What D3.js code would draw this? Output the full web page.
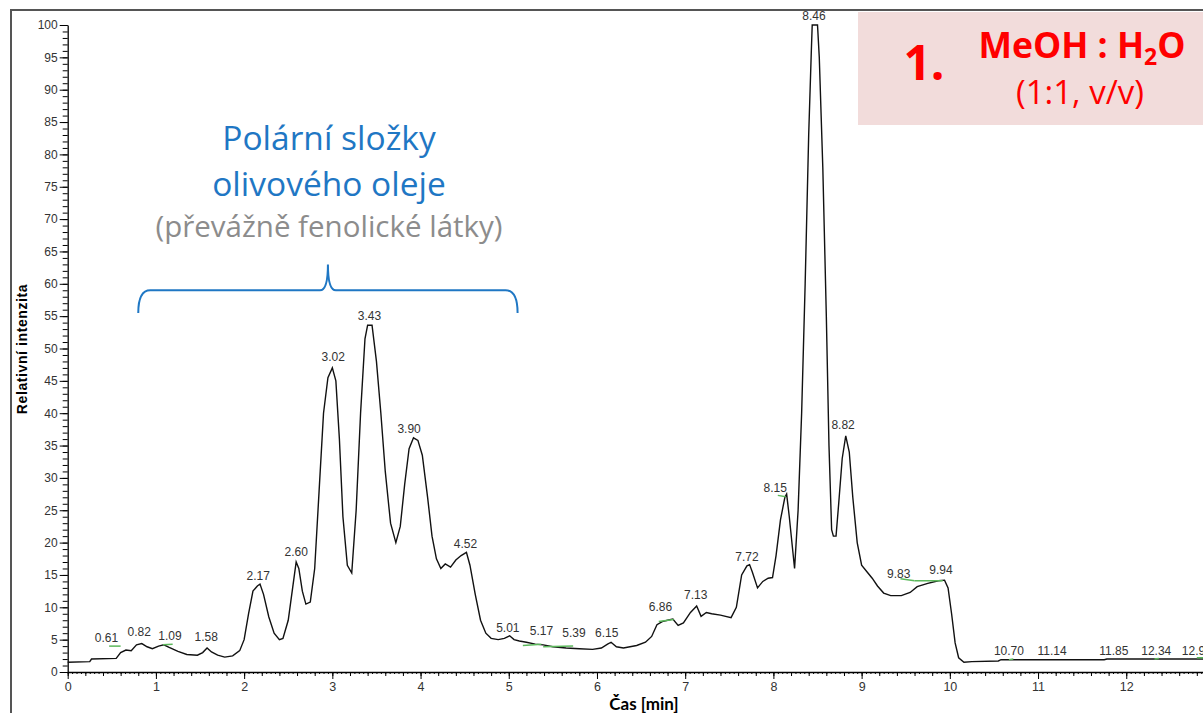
<!DOCTYPE html>
<html>
<head>
<meta charset="utf-8">
<script src="https://cdn.jsdelivr.net/npm/d3@7"></script>
<style>
body { margin: 0; background: #fff; }
</style>
</head>
<body>
<script>
// chromatogram trace (retention time [min], relative intensity)
var rtTime = [0.00,0.25,0.27,0.55,0.60,0.66,0.72,0.78,0.84,0.90,0.96,1.03,1.09,1.15,1.25,1.35,1.47,1.53,1.58,1.63,
  1.70,1.78,1.87,1.95,2.00,2.05,2.10,2.15,2.18,2.22,2.28,2.34,2.40,2.44,2.50,2.55,2.59,2.62,2.66,2.70,
  2.75,2.80,2.85,2.90,2.95,3.00,3.04,3.08,3.12,3.17,3.22,3.27,3.32,3.37,3.40,3.45,3.50,3.55,3.60,3.66,
  3.72,3.77,3.82,3.87,3.92,3.97,4.02,4.08,4.13,4.18,4.23,4.28,4.34,4.40,4.46,4.52,4.56,4.62,4.68,4.74,
  4.80,4.88,4.95,5.01,5.06,5.12,5.20,5.30,5.39,5.50,5.65,5.80,5.95,6.05,6.12,6.16,6.22,6.30,6.45,6.55,
  6.62,6.68,6.74,6.80,6.86,6.92,6.98,7.06,7.13,7.18,7.24,7.30,7.40,7.52,7.58,7.64,7.70,7.73,7.76,7.82,
  7.88,7.94,7.99,8.03,8.08,8.13,8.15,8.18,8.24,8.28,8.32,8.36,8.40,8.43,8.44,8.50,8.52,8.56,8.60,8.63,
  8.66,8.68,8.71,8.74,8.78,8.82,8.86,8.90,8.95,9.00,9.06,9.12,9.18,9.25,9.33,9.45,9.55,9.63,9.75,9.87,
  9.94,9.98,10.02,10.06,10.10,10.16,10.25,10.55,10.58,11.75,11.78,12.90];
var intensity = [1.5,1.6,2.0,2.1,3.0,3.4,3.3,4.2,4.4,3.9,3.6,4.0,4.2,3.8,3.2,2.7,2.6,3.0,3.7,3.1,
  2.6,2.3,2.5,3.3,5.0,9.0,12.5,13.3,13.6,12.0,8.5,6.0,5.0,5.2,8.0,13.0,17.0,16.0,12.5,10.5,
  10.8,16.0,28.0,40.0,45.5,47.0,45.0,36.0,24.0,16.5,15.3,25.0,40.0,51.5,53.6,53.6,48.0,40.0,31.0,23.0,
  20.0,22.5,29.0,34.5,36.2,35.8,33.5,27.0,21.0,17.5,16.0,16.7,16.2,17.3,18.0,18.5,16.5,12.0,8.0,6.0,
  5.2,5.0,5.2,5.6,5.0,4.8,4.6,4.3,4.2,3.9,3.7,3.6,3.5,3.7,4.3,4.6,3.9,3.7,4.1,4.6,
  5.5,7.3,7.8,8.0,8.2,7.2,7.6,9.2,10.2,8.6,9.2,9.0,8.8,8.4,10.0,15.0,16.4,16.6,15.5,13.0,
  14.0,14.5,14.6,18.0,23.5,27.0,27.5,24.0,16.0,25.0,40.0,60.0,83.0,96.0,100,100,95.0,78.0,55.0,35.0,
  22.0,21.0,21.0,26.0,33.0,36.5,34.0,27.0,20.0,16.5,15.5,14.5,13.3,12.2,11.8,11.8,12.3,13.2,13.7,14.1,
  14.2,13.0,9.0,4.5,2.2,1.5,1.6,1.7,1.9,1.9,2.0,2.0];

// peak labels: text, position (time) and level (intensity) of the label baseline
var peakText = ["0.61","0.82","1.09","1.58","2.17","2.60","3.02","3.43","3.90","4.52","5.01","5.17","5.39","6.15",
  "6.86","7.13","7.72","8.15","8.46","8.82","9.83","9.94","10.70","11.14","11.85","12.34","12.96"];
var peakT = [0.44,0.81,1.16,1.57,2.16,2.59,3.01,3.42,3.87,4.51,4.99,5.37,5.74,6.11,
  6.72,7.12,7.70,8.02,8.46,8.79,9.42,9.90,10.67,11.16,11.86,12.34,12.80];
var peakV = [4.6,5.6,4.9,4.8,14.2,17.9,48.1,54.4,37.0,19.2,6.2,5.7,5.4,5.4,
  9.4,11.3,17.2,27.8,100.8,37.6,14.5,15.1,2.6,2.6,2.6,2.6,2.6];

// green integration baselines [t1, v1, t2, v2]
var baselines = [[0.47,4.0,0.60,4.0],[1.08,4.2,1.19,4.3],[5.16,4.1,5.37,4.3],[5.39,3.9,5.73,4.0],
  [6.70,7.8,6.87,8.1],[8.05,27.3,8.14,27.1],[9.44,14.4,9.60,14.1],[9.60,14.1,9.92,14.1],
  [10.67,1.9,10.72,2.0],[12.32,2.0,12.37,2.1],[12.80,2.2,12.90,2.2]];

var yTicks = d3.range(0, 101, 5);
var xTicks = d3.range(0, 13, 1);

var width = 1203, height = 713;
var svg = d3.select("body").append("svg")
  .attr("width", width)
  .attr("height", height);

var x = d3.scaleLinear().domain([0, 12.87]).range([67.7, 1203]);
var y = d3.scaleLinear().domain([0, 100]).range([672, 25]);

// outer frame (left and top edges)
svg.append("path")
  .attr("d", "M11,713V10H1203")
  .attr("fill", "none")
  .attr("stroke", "#555")
  .attr("stroke-width", 2);

// pink annotation box
svg.append("rect")
  .attr("x", 858).attr("y", 12)
  .attr("width", 345).attr("height", 113)
  .attr("fill", "#f2dcdb");

// y axis
var axFont = "Liberation Sans, Arial, sans-serif";
svg.append("g")
  .attr("transform", "translate(" + x(0) + ",0)")
  .call(d3.axisLeft(y).tickValues(d3.range(0, 101, 1)).tickSize(5).tickFormat("").tickSizeOuter(0))
  .call(function(g) { g.select(".domain").remove(); });
var yAx = svg.append("g")
  .attr("transform", "translate(" + x(0) + ",0)")
  .call(d3.axisLeft(y).tickValues(yTicks).tickSize(8).tickPadding(2).tickSizeOuter(0));
yAx.selectAll("text").attr("font-family", axFont).attr("font-size", 12).attr("fill", "#333");

// x axis
svg.append("g")
  .attr("transform", "translate(0," + y(0) + ")")
  .call(d3.axisBottom(x).tickValues(d3.range(0, 12.9, 0.05)).tickSize(2).tickFormat("").tickSizeOuter(0))
  .call(function(g) { g.select(".domain").remove(); });
svg.append("g")
  .attr("transform", "translate(0," + y(0) + ")")
  .call(d3.axisBottom(x).tickValues(d3.range(0, 12.9, 0.2)).tickSize(4).tickFormat("").tickSizeOuter(0))
  .call(function(g) { g.select(".domain").remove(); });
var xAx = svg.append("g")
  .attr("transform", "translate(0," + y(0) + ")")
  .call(d3.axisBottom(x).tickValues(xTicks).tickSize(7).tickPadding(3).tickSizeOuter(0));
xAx.selectAll("text").attr("font-family", axFont).attr("font-size", 12.5).attr("fill", "#333");
svg.selectAll(".domain").attr("stroke-width", 1.3);

// axis titles
svg.append("text")
  .attr("transform", "translate(27,349) rotate(-90)")
  .attr("text-anchor", "middle")
  .attr("font-family", axFont)
  .attr("font-weight", "bold")
  .attr("font-size", 14)
  .attr("letter-spacing", 0.6)
  .text("Relativní intenzita");
svg.append("text")
  .attr("x", 644).attr("y", 710)
  .attr("text-anchor", "middle")
  .attr("font-family", "Lato, sans-serif")
  .attr("font-weight", "bold")
  .attr("font-size", 17)
  .text("Čas [min]");

// trace
var pts = rtTime.map(function(t, i) { return [t, intensity[i]]; });
var line = d3.line().x(function(d) { return x(d[0]); }).y(function(d) { return y(d[1]); });
svg.append("path")
  .datum(pts)
  .attr("d", line)
  .attr("fill", "none")
  .attr("stroke", "#111")
  .attr("stroke-width", 1.4);

// green baselines
svg.selectAll("line.base")
  .data(baselines).enter().append("line")
  .attr("class", "base")
  .attr("x1", function(d) { return x(d[0]); })
  .attr("y1", function(d) { return y(d[1]); })
  .attr("x2", function(d) { return x(d[2]); })
  .attr("y2", function(d) { return y(d[3]); })
  .attr("stroke", "#5cb85c")
  .attr("stroke-width", 1.5);

// peak labels
svg.selectAll("text.peak")
  .data(peakText).enter().append("text")
  .attr("class", "peak")
  .attr("x", function(d, i) { return x(peakT[i]); })
  .attr("y", function(d, i) { return y(peakV[i]); })
  .attr("text-anchor", "middle")
  .attr("font-family", axFont)
  .attr("font-size", 12)
  .attr("fill", "#333")
  .text(function(d) { return d; });

// brace over polar region
var bL = 0.8, bR = 5.1, bM = 2.95, bLev = 59, bEnd = 55.5, bTip = 63;
var brace = d3.path();
brace.moveTo(x(bL), y(bEnd));
brace.quadraticCurveTo(x(bL), y(bLev), x(bL) + 12, y(bLev));
brace.lineTo(x(bM) - 8, y(bLev));
brace.quadraticCurveTo(x(bM), y(bLev), x(bM), y(bTip));
brace.quadraticCurveTo(x(bM), y(bLev), x(bM) + 8, y(bLev));
brace.lineTo(x(bR) - 12, y(bLev));
brace.quadraticCurveTo(x(bR), y(bLev), x(bR), y(bEnd));
svg.append("path")
  .attr("d", brace.toString())
  .attr("fill", "none")
  .attr("stroke", "#1f77c4")
  .attr("stroke-width", 2);

var noteFont = "'Open Sans', Lato, sans-serif";
svg.append("text").attr("x", 329).attr("y", 150)
  .attr("text-anchor", "middle").attr("font-family", noteFont)
  .attr("font-size", 33.5).attr("fill", "#1f77c4")
  .text("Polární složky");
svg.append("text").attr("x", 329).attr("y", 196)
  .attr("text-anchor", "middle").attr("font-family", noteFont)
  .attr("font-size", 33.5).attr("fill", "#1f77c4")
  .text("olivového oleje");
svg.append("text").attr("x", 329).attr("y", 237)
  .attr("text-anchor", "middle").attr("font-family", noteFont)
  .attr("font-size", 29.5).attr("fill", "#8c8c8c")
  .text("(převážně fenolické látky)");

// solvent annotation
svg.append("text").attr("x", 924).attr("y", 80)
  .attr("text-anchor", "middle").attr("font-family", noteFont)
  .attr("font-weight", "bold").attr("font-size", 48).attr("fill", "#ff0000")
  .text("1.");
var t1 = svg.append("text").attr("x", 1082).attr("y", 58)
  .attr("text-anchor", "middle").attr("font-family", noteFont)
  .attr("font-weight", "bold").attr("font-size", 35.5).attr("fill", "#ff0000");
t1.append("tspan").text("MeOH : H");
t1.append("tspan").attr("font-size", 23).attr("dy", 7).text("2");
t1.append("tspan").attr("dy", -7).text("O");
svg.append("text").attr("x", 1080).attr("y", 104)
  .attr("text-anchor", "middle").attr("font-family", noteFont)
  .attr("font-size", 33).attr("fill", "#ff0000")
  .text("(1:1, v/v)");
</script>
</body>
</html>
